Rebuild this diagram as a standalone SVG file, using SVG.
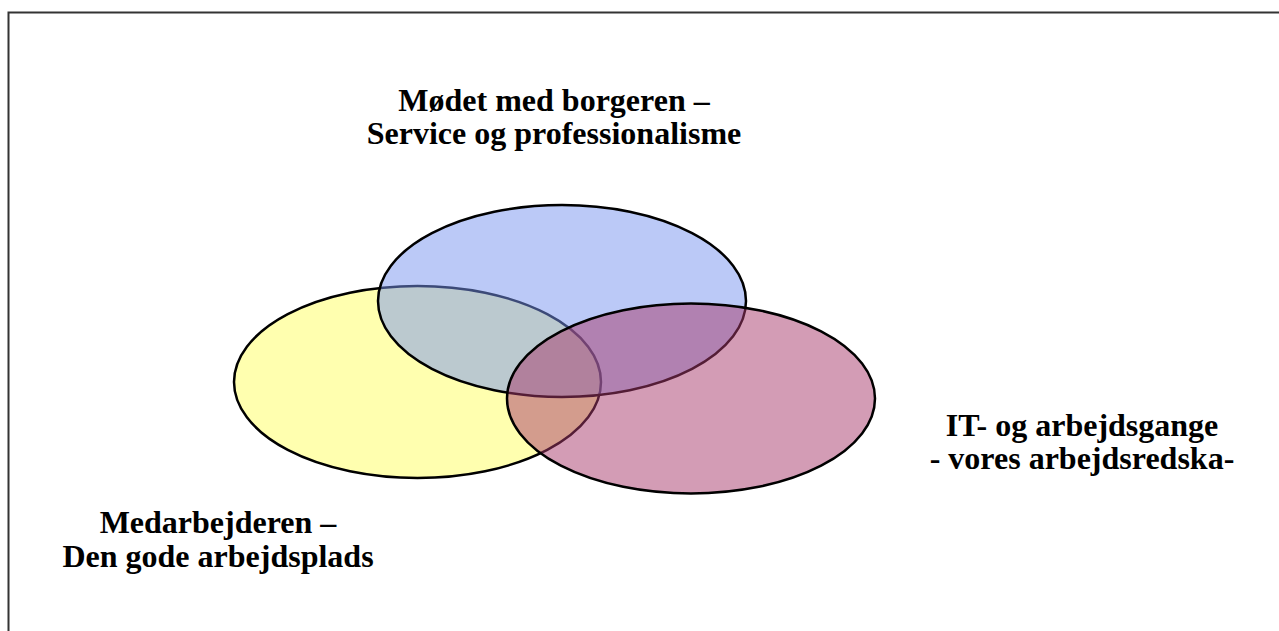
<svg xmlns="http://www.w3.org/2000/svg" width="1279" height="631" viewBox="0 0 1279 631">
<style>
.lbl{font-family:"Liberation Serif","Times New Roman",serif;font-weight:bold;font-size:32px;fill:#000;text-anchor:middle}
.ell{stroke:#000;stroke-width:2.5}
</style>
<rect x="0" y="0" width="1279" height="631" fill="#fff"/>
<rect x="8.5" y="12.5" width="1290" height="640" fill="none" stroke="#333" stroke-width="2"/>
<g id="node-medarbejder"><ellipse class="ell" cx="417.5" cy="382" rx="183.5" ry="96" fill="#ffff60" fill-opacity="0.5"/></g>
<g id="node-borger"><ellipse class="ell" cx="562" cy="301" rx="184" ry="96" fill="#7894f0" fill-opacity="0.5"/></g>
<g id="node-it"><ellipse class="ell" cx="691" cy="398.5" rx="184" ry="95" fill="#a83a6c" fill-opacity="0.5"/></g>
<g id="connectors"></g>
<g id="label-borger"><text class="lbl" x="554" y="111">Mødet med borgeren –</text><text class="lbl" x="554" y="144">Service og professionalisme</text></g>
<g id="label-it"><text class="lbl" x="1082" y="436">IT- og arbejdsgange</text><text class="lbl" x="1082" y="469">- vores arbejdsredska-</text></g>
<g id="label-medarbejder"><text class="lbl" x="218" y="533">Medarbejderen –</text><text class="lbl" x="218" y="567">Den gode arbejdsplads</text></g>
</svg>
